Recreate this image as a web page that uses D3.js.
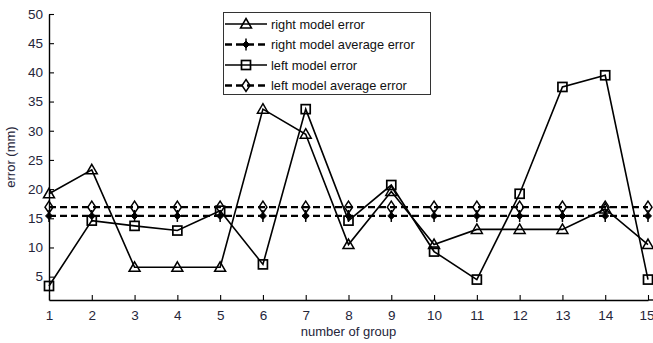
<!DOCTYPE html>
<html>
<head>
<meta charset="utf-8">
<script src="https://cdn.jsdelivr.net/npm/d3@7"></script>
<style>
html,body{margin:0;padding:0;background:#fff;}
svg{display:block;font-family:"Liberation Sans",Arial,sans-serif;}
</style>
</head>
<body>
<svg id="chart" width="653" height="343"></svg>
<script>
const groups = [1,2,3,4,5,6,7,8,9,10,11,12,13,14,15];
const rightError = [19.2,23.3,6.6,6.6,6.6,33.7,29.4,10.5,19.6,10.5,13.1,13.1,13.1,16.6,10.5];
const rightAvg = [15.4,15.4,15.4,15.4,15.4,15.4,15.4,15.4,15.4,15.4,15.4,15.4,15.4,15.4,15.4];
const leftError = [3.4,14.6,13.7,12.9,16.3,7.1,33.7,14.6,20.7,9.3,4.5,19.2,37.5,39.5,4.5];
const leftAvg = [16.9,16.9,16.9,16.9,16.9,16.9,16.9,16.9,16.9,16.9,16.9,16.9,16.9,16.9,16.9];
const yTicks = [5,10,15,20,25,30,35,40,45,50];
const seriesNames = ["right model error","right model average error","left model error","left model average error"];

const svg = d3.select("#chart");
const x = d3.scaleLinear().domain([1,15]).range([49,648]);
const y = d3.scaleLinear().domain([1,50]).range([300,14]);

// axes
const xAxis = d3.axisBottom(x).tickValues(groups).tickSize(-5).tickSizeOuter(0).tickPadding(10).tickFormat(d3.format("d"));
const yAxis = d3.axisLeft(y).tickValues(yTicks).tickSize(-5).tickSizeOuter(0).tickPadding(6).tickFormat(d3.format("d"));

const gx = svg.append("g").attr("transform","translate(0,300)").call(xAxis);
const gy = svg.append("g").attr("transform","translate(49,0)").call(yAxis);
[gx,gy].forEach(g=>{
  g.selectAll("path.domain").attr("stroke","#000").attr("stroke-width",1.4);
  g.selectAll(".tick line").attr("stroke","#000").attr("stroke-width",1.1);
  g.selectAll(".tick text").attr("fill","#25253a").style("font-size","13.5px").style("font-family","'Liberation Sans',Arial,sans-serif");
});
// keep the last x label inside the frame
gx.selectAll(".tick text").filter(d=>d===15).attr("text-anchor","end").attr("dx","6");
// extend bottom axis line to the edge
svg.append("line").attr("x1",x(15)).attr("x2",653).attr("y1",300).attr("y2",300).attr("stroke","#000").attr("stroke-width",1.4);

svg.append("text").attr("x",(x(1)+x(15))/2).attr("y",336).attr("text-anchor","middle")
  .style("font-size","13px").attr("fill","#25253a").text("number of group");
svg.append("text").attr("transform","translate(15,157) rotate(-90)").attr("text-anchor","middle")
  .style("font-size","13px").attr("fill","#25253a").text("error (mm)");

// marker drawers
function triangle(g,cx,cy){
  g.append("path").attr("d",`M${cx},${cy-5.5}L${cx+5.5},${cy+4}L${cx-5.5},${cy+4}Z`)
   .attr("fill","none").attr("stroke","#000").attr("stroke-width",1.5);
}
function square(g,cx,cy){
  g.append("rect").attr("x",cx-4.5).attr("y",cy-4.5).attr("width",9).attr("height",9)
   .attr("fill","none").attr("stroke","#000").attr("stroke-width",1.7);
}
function diamond(g,cx,cy){
  g.append("path").attr("d",`M${cx},${cy-6}L${cx+4},${cy}L${cx},${cy+6}L${cx-4},${cy}Z`)
   .attr("fill","none").attr("stroke","#000").attr("stroke-width",1.5);
}
function star(g,cx,cy){
  g.append("path").attr("d",`M${cx},${cy-3.5}L${cx+3.5},${cy}L${cx},${cy+3.5}L${cx-3.5},${cy}Z`)
   .attr("fill","#000").attr("stroke","#000").attr("stroke-width",1);
  g.append("line").attr("x1",cx).attr("x2",cx).attr("y1",cy-6).attr("y2",cy+6).attr("stroke","#000").attr("stroke-width",1.5);
}

const series = [
  {name:seriesNames[0], values:rightError, dash:null, width:1.6, marker:triangle},
  {name:seriesNames[1], values:rightAvg, dash:"7,4", width:2.3, marker:star},
  {name:seriesNames[2], values:leftError, dash:null, width:1.6, marker:square},
  {name:seriesNames[3], values:leftAvg, dash:"7,4", width:2.3, marker:diamond}
];

const line = d3.line().x((d,i)=>x(groups[i])).y(d=>y(d));
series.forEach(s=>{
  const g = svg.append("g");
  g.append("path").datum(s.values).attr("d",line).attr("fill","none")
   .attr("stroke","#000").attr("stroke-width",s.width).attr("stroke-dasharray",s.dash);
  s.values.forEach((v,i)=>s.marker(g,x(groups[i]),y(v)));
});

// legend
const lg = svg.append("g");
lg.append("rect").attr("x",223.5).attr("y",12.5).attr("width",207).attr("height",82)
  .attr("fill","#fff").attr("stroke","#333").attr("stroke-width",1);
const rowY = [24,44.5,65,85.5];
series.forEach((s,i)=>{
  const yy = rowY[i];
  lg.append("line").attr("x1",225).attr("x2",267).attr("y1",yy).attr("y2",yy)
    .attr("stroke","#000").attr("stroke-width",s.width).attr("stroke-dasharray",s.dash);
  s.marker(lg,246,yy);
  lg.append("text").attr("x",271).attr("y",yy+4.5).style("font-size","12.8px").attr("fill","#111").text(s.name);
});
</script>
</body>
</html>
